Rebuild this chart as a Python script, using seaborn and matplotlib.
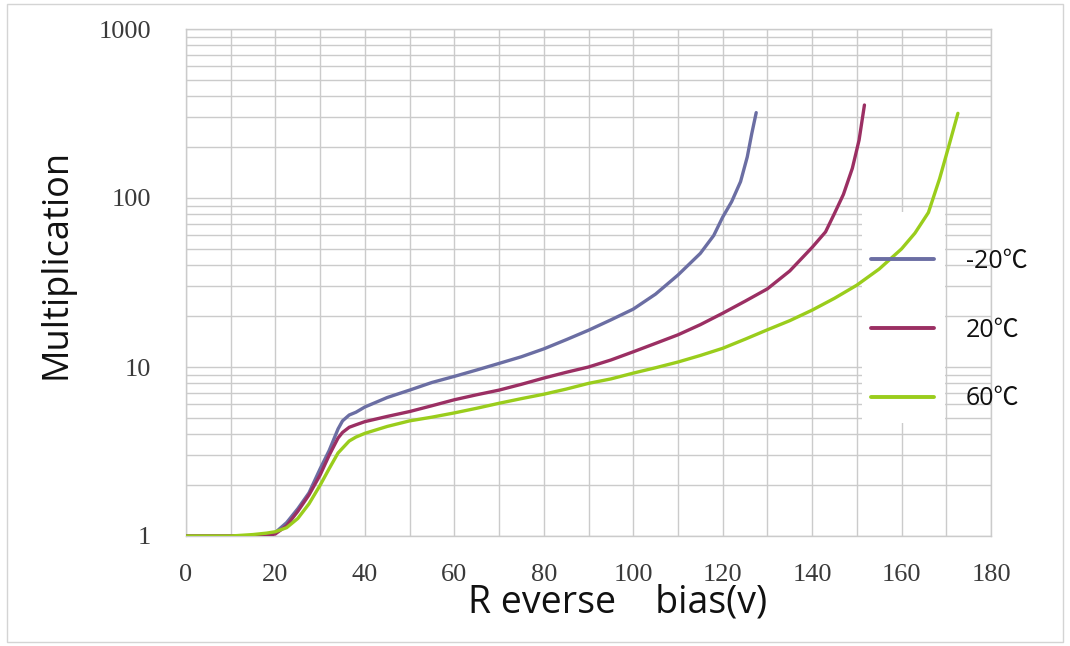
import numpy as np
import pandas as pd
import matplotlib
matplotlib.use("Agg")
import matplotlib.pyplot as plt
import seaborn as sns
from matplotlib.patches import Rectangle
from matplotlib.lines import Line2D
from matplotlib.ticker import LogLocator, MultipleLocator, NullFormatter, FixedLocator, FixedFormatter

# ---------------- data ----------------
series_labels = ['-20\u2103', '20\u2103', '60\u2103']
series_colors = ['#6b6ea3', '#9b2f63', '#9acd1c']

bias_m20 = [0, 5, 10, 15, 18, 20, 22.5, 25, 27.5, 30, 32, 34, 35, 36.5, 38, 40, 45, 50, 55, 60,
            65, 70, 75, 80, 85, 90, 95, 100, 105, 110, 115, 118, 120, 122, 124, 125.5, 126.5, 127.5]
mult_m20 = [1, 1, 1, 1, 1, 1.05, 1.2, 1.45, 1.8, 2.5, 3.2, 4.3, 4.8, 5.2, 5.4, 5.8, 6.6, 7.3, 8.1, 8.8,
            9.6, 10.5, 11.5, 12.8, 14.5, 16.5, 19, 22, 27, 35, 47, 60, 77, 95, 125, 175, 240, 320]

bias_20 = [0, 5, 10, 15, 18, 20, 22.5, 25, 27.5, 30, 32, 34, 35, 36.5, 38, 40, 45, 50, 55, 60,
           65, 70, 75, 80, 85, 90, 95, 100, 105, 110, 115, 120, 125, 130, 135, 140, 143, 145,
           147, 149, 150.5, 151.7]
mult_20 = [1, 1, 1, 1, 1, 1.03, 1.15, 1.4, 1.75, 2.3, 3.0, 3.8, 4.1, 4.4, 4.55, 4.75, 5.1, 5.45, 5.9, 6.4,
           6.85, 7.3, 7.9, 8.6, 9.3, 10.0, 11.0, 12.3, 13.8, 15.5, 17.8, 20.8, 24.5, 29, 37, 51, 63, 81,
           105, 150, 220, 355]

bias_60 = [0, 5, 10, 15, 18, 20, 22.5, 25, 27.5, 30, 32, 34, 36.5, 38, 40, 45, 50, 55, 60, 65,
           70, 75, 80, 85, 90, 95, 100, 105, 110, 115, 120, 125, 130, 135, 140, 145, 150, 155,
           160, 163, 166, 168.5, 170.5, 172.6]
mult_60 = [1, 1, 1, 1.02, 1.04, 1.06, 1.12, 1.27, 1.55, 2.0, 2.5, 3.1, 3.65, 3.85, 4.05, 4.45, 4.8, 5.05, 5.35, 5.7,
           6.1, 6.5, 6.9, 7.4, 8.0, 8.5, 9.2, 9.9, 10.7, 11.7, 12.9, 14.6, 16.6, 18.8, 21.7, 25.5, 30.5, 38,
           50, 62, 82, 130, 200, 317]

x_major_ticks = [0, 20, 40, 60, 80, 100, 120, 140, 160, 180]
y_major_ticks = [1, 10, 100, 1000]
y_tick_labels = ['1', '10', '100', '1000']
x_label = 'R everse    bias(v)'
y_label = 'Multiplication'

# ---------------- build table ----------------
frames = []
for lab, xs, ys in zip(series_labels, [bias_m20, bias_20, bias_60], [mult_m20, mult_20, mult_60]):
    frames.append(pd.DataFrame({'bias': xs, 'mult': ys, 'series': lab}))
df = pd.concat(frames, ignore_index=True)

# ---------------- style ----------------
sns.set_theme(style='white')
plt.rcParams['font.family'] = ['Open Sans', 'Noto Sans CJK SC', 'DejaVu Sans']

fig = plt.figure(figsize=(10.7, 6.46), dpi=100)
ax = fig.add_axes([186 / 1070, 1 - 536 / 646, (991 - 186) / 1070, (536 - 29) / 646])
ax.set_axisbelow(True)

palette = dict(zip(series_labels, series_colors))
sns.lineplot(data=df, x='bias', y='mult', hue='series', palette=palette,
             estimator=None, linewidth=2.4, legend=False, ax=ax, zorder=3)

ax.set_yscale('log')
ax.set_xlim(0, 180)
ax.set_ylim(1, 1000)

ax.xaxis.set_major_locator(FixedLocator(x_major_ticks))
ax.xaxis.set_minor_locator(MultipleLocator(10))
ax.yaxis.set_major_locator(FixedLocator(y_major_ticks))
ax.yaxis.set_major_formatter(FixedFormatter(y_tick_labels))
ax.yaxis.set_minor_locator(LogLocator(base=10, subs=np.arange(2, 10)))
ax.yaxis.set_minor_formatter(NullFormatter())

grid_col = '#cbcbcb'
ax.grid(True, which='both', color=grid_col, linewidth=1.0)
for s in ax.spines.values():
    s.set_color(grid_col)
    s.set_linewidth(1.0)

ax.tick_params(axis='both', which='both', length=0)
ax.tick_params(axis='x', which='major', pad=20, labelsize=19, labelcolor='#3a3a3a')
ax.tick_params(axis='y', which='major', pad=25, labelsize=19, labelcolor='#3a3a3a')
for t in ax.get_xticklabels() + ax.get_yticklabels():
    t.set_fontfamily(['Liberation Serif', 'DejaVu Serif'])

ax.set_xlabel(x_label, fontsize=27, color='#111111')
ax.xaxis.label.set(va='center', ha='center')
ax.xaxis.set_label_coords((618 - 186) / 805, (536 - 603) / 507)

ax.set_ylabel(y_label, fontsize=26, color='#111111')
ax.yaxis.label.set(va='center', ha='center')
ax.yaxis.set_label_coords((56 - 186) / 805, (536 - 264) / 507)

# white area behind the legend that hides the grid
ax.add_patch(Rectangle(((862 - 186) / 805, (536 - 423) / 507),
                       (945 - 862) / 805, (423 - 212) / 507,
                       transform=ax.transAxes, facecolor='white', edgecolor='none', zorder=1))

handles = [Line2D([], [], color=c, linewidth=2.8) for c in series_colors]
leg = ax.legend(handles, series_labels, frameon=False, loc='center left',
                bbox_to_anchor=((871 - 186) / 805, (536 - 330) / 507),
                fontsize=18, handlelength=2.5, handletextpad=1.3, labelspacing=1.75,
                borderpad=0, borderaxespad=0)
for t in leg.get_texts():
    t.set_color('#111111')

# outer light frame
fig.patches.append(Rectangle((7 / 1070, 4 / 646), (1063 - 7) / 1070, (642 - 4) / 646,
                             transform=fig.transFigure, fill=False,
                             edgecolor='#d4d4d4', linewidth=1.0))

fig.savefig('out.png', dpi=100)
